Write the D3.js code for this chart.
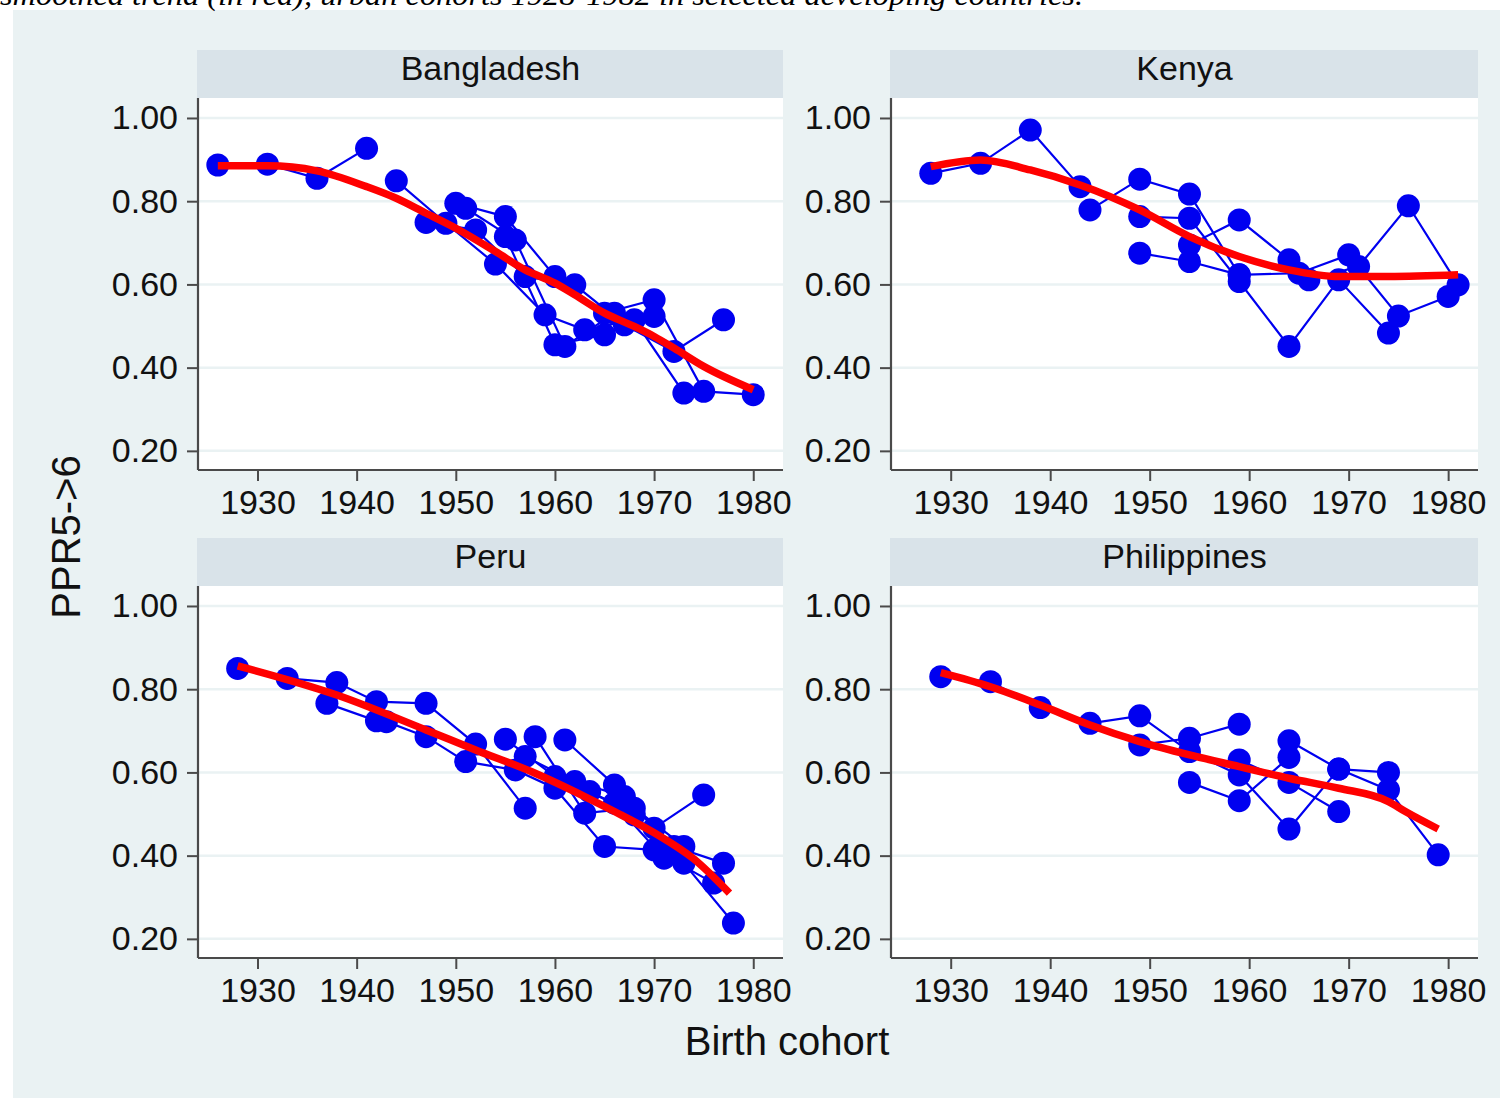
<!DOCTYPE html>
<html><head><meta charset="utf-8">
<script src="https://cdn.jsdelivr.net/npm/d3@7"></script>
<style>body{margin:0;background:#fff}svg{display:block}</style>
</head><body>
<svg id="c" width="1500" height="1098"></svg>
<script>
// ---------- data ----------
const countries = ["Bangladesh", "Kenya", "Peru", "Philippines"];
const xTicks = [1930, 1940, 1950, 1960, 1970, 1980];
const yTicks = [0.20, 0.40, 0.60, 0.80, 1.00];
const captionText = "smoothed trend (in red), urban cohorts 1928-1982 in selected developing countries.";
const xTitle = "Birth cohort";
const yTitle = "PPR5->6";

// each inner array: one connected series of [birth cohort, PPR5->6]
const bangladeshSeries = [
  [[1926,.887],[1931,.889],[1936,.855],[1941,.927]],
  [[1944,.849],[1949,.747],[1954,.649],[1959,.527],[1963,.491],[1968,.515],[1973,.339]],
  [[1947,.749],[1952,.731],[1957,.619],[1962,.599],[1967,.503],[1972,.439],[1977,.515]],
  [[1950,.795],[1955,.763],[1960,.619],[1965,.531],[1970,.563],[1975,.343],[1980,.335]],
  [[1951,.783],[1956,.707],[1961,.451],[1966,.531],[1970,.523]],
  [[1955,.715],[1960,.455],[1965,.479]]
];
const kenyaSeries = [
  [[1928,.867],[1933,.891],[1938,.971],[1943,.835]],
  [[1944,.779],[1949,.853],[1954,.817],[1959,.623],[1965,.627],[1970,.671],[1975,.524],[1980,.571]],
  [[1949,.763],[1954,.759],[1959,.607],[1964,.451],[1969,.611],[1974,.483]],
  [[1949,.675],[1954,.655],[1959,.623]],
  [[1954,.695],[1959,.755],[1964,.659]],
  [[1966,.611],[1971,.643],[1976,.789],[1981,.599]]
];
const peruSeries = [
  [[1928,.850],[1933,.826],[1938,.816],[1942,.770],[1947,.766],[1952,.668],[1957,.514]],
  [[1937,.766],[1942,.724],[1943,.722],[1947,.686],[1951,.626],[1956,.606],[1960,.562],[1965,.422],[1970,.414],[1976,.334]],
  [[1955,.680],[1960,.590],[1966,.526],[1971,.394]],
  [[1958,.686],[1963,.502],[1968,.514],[1973,.422]],
  [[1961,.678],[1966,.570],[1970,.466],[1975,.546]],
  [[1957,.638],[1962,.578],[1967,.542],[1972,.422],[1977,.382]],
  [[1963.5,.554],[1968,.498],[1973,.382],[1978,.238]]
];
const philippinesSeries = [
  [[1929,.830],[1934,.818],[1939,.756],[1944,.718],[1949,.736],[1954,.650],[1959,.594],[1964,.464],[1969,.608],[1974,.600]],
  [[1949,.666],[1954,.682],[1959,.716]],
  [[1954,.576],[1959,.532],[1964,.636]],
  [[1959,.630],[1964,.576],[1969,.506]],
  [[1964,.676],[1969,.608],[1974,.558],[1979,.402]]
];

// smoothed trends (red)
const bangladeshTrendYears  = [1926,1931,1936,1941,1944,1947,1950,1954,1957,1960,1962,1965,1968,1970,1972,1975,1980];
const bangladeshTrendValues = [.885,.885,.873,.835,.807,.771,.735,.679,.635,.603,.575,.531,.499,.475,.447,.403,.347];
const kenyaTrendYears  = [1928,1933,1938,1943,1949,1954,1959,1964,1969,1974,1981];
const kenyaTrendValues = [.883,.899,.875,.839,.779,.715,.667,.635,.619,.619,.623];
const peruTrendYears  = [1928,1938,1947,1952,1958,1963,1966,1970,1974,1977.6];
const peruTrendValues = [.856,.786,.702,.654,.598,.542,.506,.455,.392,.310];
const philippinesTrendYears  = [1929,1934,1939,1944,1949,1954,1959,1964,1969,1974,1975.7,1979];
const philippinesTrendValues = [.840,.806,.762,.714,.674,.642,.614,.586,.562,.530,.506,.464];

const seriesByCountry = [bangladeshSeries, kenyaSeries, peruSeries, philippinesSeries];
const trendYears = [bangladeshTrendYears, kenyaTrendYears, peruTrendYears, philippinesTrendYears];
const trendValues = [bangladeshTrendValues, kenyaTrendValues, peruTrendValues, philippinesTrendValues];

// ---------- layout ----------
const svg = d3.select("#c");
const BG = "#eaf2f3", STRIP = "#d9e3e9", BLUE = "#0000f0", RED = "#ff0000", AXIS = "#4a4a4a";
const FONT = "'Liberation Sans', Arial, Helvetica, sans-serif";
const colLeft = [198, 891], colWidth = [585, 587];
const rowTop = [98, 586], plotH = 372, stripH = 48;

svg.append("rect").attr("x", 13).attr("y", 10).attr("width", 1487).attr("height", 1088).attr("fill", BG);

svg.append("text").attr("x", 0).attr("y", 5)
  .attr("font-family", "'Liberation Serif', 'Times New Roman', serif")
  .attr("font-style", "italic").attr("font-size", 30)
  .attr("textLength", 1083).attr("lengthAdjust", "spacingAndGlyphs")
  .attr("fill", "#000").text(captionText);

countries.forEach((name, i) => {
  const col = i % 2, row = Math.floor(i / 2);
  const x0 = colLeft[col], w = colWidth[col], y0 = rowTop[row];
  const x = d3.scaleLinear().domain([1924, 1983]).range([x0, x0 + w]);
  const y = d3.scaleLinear().domain([0.154, 1.048]).range([y0 + plotH, y0]);
  const g = svg.append("g");

  // strip
  g.append("rect").attr("x", x0 - 1).attr("y", y0 - stripH).attr("width", w + 1).attr("height", stripH).attr("fill", STRIP);
  g.append("text").attr("x", x0 + w / 2).attr("y", y0 - 18).attr("text-anchor", "middle")
    .attr("font-family", FONT).attr("font-size", 34).attr("fill", "#111").text(name);

  // plot region
  g.append("rect").attr("x", x0).attr("y", y0).attr("width", w).attr("height", plotH).attr("fill", "#fff");

  // gridlines
  g.selectAll(".grid").data(yTicks).join("line")
    .attr("x1", x0).attr("x2", x0 + w).attr("y1", d => y(d)).attr("y2", d => y(d))
    .attr("stroke", BG).attr("stroke-width", 2.5);

  // axes
  const yAxis = d3.axisLeft(y).tickValues(yTicks).tickFormat(d3.format(".2f")).tickSize(11).tickPadding(9);
  const xAxis = d3.axisBottom(x).tickValues(xTicks).tickFormat(d3.format("d")).tickSize(11).tickPadding(9);
  const ya = g.append("g").attr("transform", `translate(${x0},0)`).call(yAxis);
  const xa = g.append("g").attr("transform", `translate(0,${y0 + plotH})`).call(xAxis);
  [ya, xa].forEach(a => {
    a.select(".domain").attr("stroke", AXIS).attr("stroke-width", 2.2);
    a.selectAll(".tick line").attr("stroke", AXIS).attr("stroke-width", 2);
    a.selectAll(".tick text").attr("font-family", FONT).attr("font-size", 34).attr("fill", "#111");
  });
  ya.select(".domain").attr("d", `M0,${y0 + plotH}V${y0}`);
  xa.select(".domain").attr("d", `M${x0},0H${x0 + w}`);

  // connected series
  const line = d3.line().x(d => x(d[0])).y(d => y(d[1]));
  const series = seriesByCountry[i];
  g.selectAll(".ser").data(series).join("path")
    .attr("d", line).attr("fill", "none").attr("stroke", BLUE).attr("stroke-width", 2.2);
  g.selectAll(".pt").data(series.flat()).join("circle")
    .attr("cx", d => x(d[0])).attr("cy", d => y(d[1])).attr("r", 11.5).attr("fill", BLUE);

  // smoothed trend
  const trend = trendYears[i].map((yr, k) => [yr, trendValues[i][k]]);
  g.append("path").datum(trend)
    .attr("d", d3.line().x(d => x(d[0])).y(d => y(d[1])).curve(d3.curveMonotoneX))
    .attr("fill", "none").attr("stroke", RED).attr("stroke-width", 7.5);
});

// axis titles
svg.append("text").attr("x", 787).attr("y", 1055).attr("text-anchor", "middle")
  .attr("font-family", FONT).attr("font-size", 40).attr("fill", "#111").text(xTitle);
svg.append("text").attr("transform", "translate(80,537) rotate(-90)").attr("text-anchor", "middle")
  .attr("font-family", FONT).attr("font-size", 40).attr("fill", "#111").text(yTitle);
</script></body></html>
